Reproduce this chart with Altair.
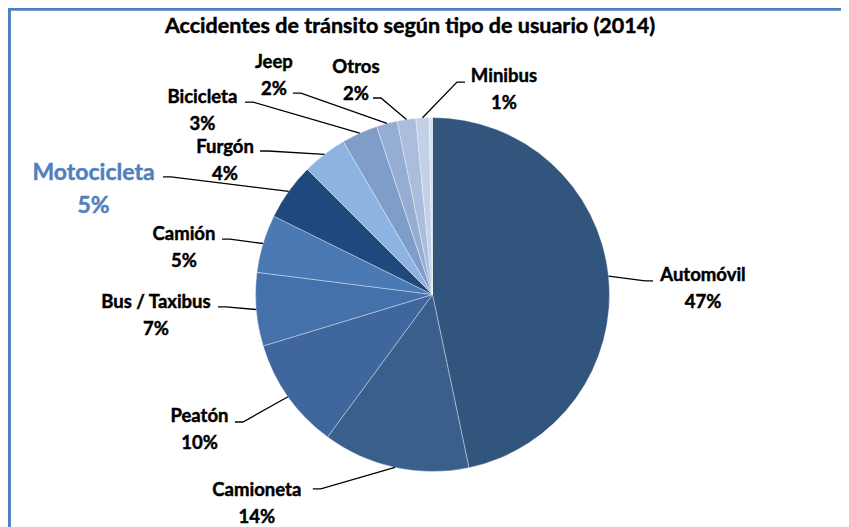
import math
import altair as alt
import pandas as pd

# ---------------- data ----------------
CATEGORIES = ["Automóvil", "Camioneta", "Peatón", "Bus / Taxibus", "Camión",
              "Motocicleta", "Furgón", "Bicicleta", "Jeep", "Otros", "Minibus", "Resto"]
SHARES = [46.7, 13.4, 10.2, 6.7, 5.3, 5.2, 4.1, 3.3, 1.9, 1.7, 1.2, 0.3]
PCT_LABELS = ["47%", "14%", "10%", "7%", "5%", "5%", "4%", "3%", "2%", "2%", "1%", ""]
TITLE = "Accidentes de tránsito según tipo de usuario (2014)"
HIGHLIGHT = "Motocicleta"

# ---------------- style / layout ----------------
COLORS = ["#32557D", "#3A5F8C", "#3F679D", "#4471AA", "#4A79B4", "#1F497D",
          "#8DB3E2", "#7F9DC9", "#96ADD3", "#AABDDD", "#C2D0E8", "#D8E2F1"]
W, H = 833, 519
CX, CY, R = 424.5, 286.5, 177
FONT = "Lato"
# label block centre, polar: degrees clockwise from 12 o'clock, px from pie centre
LABEL_ANGLE = [88.5, 220.2, 240.1, 265.8, 280.9, 287.4, 303.05, 308.8, 324.2, 340.4, 19.1, None]
LABEL_DIST = [270.6, 272.2, 268.8, 277.3, 253.1, 355.2, 247.5, 295.2, 271.1, 228.2, 218.5, None]
# leader-line attach point relative to the label centre
ATTACH = [(-50, -6.5), (56, -13.5), (35.5, -6.5), (62, -8), (38, -7.5), (69.5, -11.5),
          (35, -8.5), (42.5, -7.5), (19, 18.5), (17, 18.5), (-39, -6), None]
ELBOW = 8

# ---------------- tables ----------------
pie = pd.DataFrame({"cat": CATEGORIES, "share": SHARES, "idx": range(len(CATEGORIES))})

total = sum(SHARES)
cum = 0.0
lead_rows, lab_rows = [], []
for i, (c, s) in enumerate(zip(CATEGORIES, SHARES)):
    mid = (cum + s / 2) / total * 2 * math.pi
    cum += s
    if LABEL_ANGLE[i] is None:
        continue
    a = math.radians(LABEL_ANGLE[i])
    lx = CX + LABEL_DIST[i] * math.sin(a)
    ly = CY - LABEL_DIST[i] * math.cos(a)
    gap = 33 if c == HIGHLIGHT else 27
    lab_rows.append({"cat": c, "pct": PCT_LABELS[i], "x": lx,
                     "yn": ly - gap / 2 + 1, "yp": ly + gap / 2 + 1,
                     "hl": c == HIGHLIGHT})
    ex, ey = CX + R * math.sin(mid), CY - R * math.cos(mid)
    ax, ay = lx + ATTACH[i][0], ly + ATTACH[i][1]
    bx = ax + (ELBOW if ax < ex else -ELBOW)
    for k, (px, py) in enumerate([(ex, ey), (bx, ay), (ax, ay)]):
        lead_rows.append({"cat": c, "k": k, "x": px, "y": py})

leads = pd.DataFrame(lead_rows)
labs = pd.DataFrame(lab_rows)

XS = alt.Scale(domain=[0, W], nice=False, zero=False)
YS = alt.Scale(domain=[0, H], nice=False, zero=False, reverse=True)

arcs = alt.Chart(pie).mark_arc(outerRadius=R, stroke="#FFFFFF", strokeWidth=0.6,
                               strokeOpacity=0.6).encode(
    theta=alt.Theta("share:Q", stack=True),
    order=alt.Order("idx:Q"),
    color=alt.Color("cat:N", scale=alt.Scale(domain=CATEGORIES, range=COLORS), legend=None),
    x=alt.value(CX), y=alt.value(CY),
)

lines = alt.Chart(leads).mark_line(color="#000000", strokeWidth=1.3).encode(
    x=alt.X("x:Q", scale=XS, axis=None),
    y=alt.Y("y:Q", scale=YS, axis=None),
    detail="cat:N", order="k:Q",
)

reg = labs[~labs["hl"]]
hl = labs[labs["hl"]]

def text_layer(df, field, yfield, size, color):
    return alt.Chart(df).mark_text(font=FONT, fontWeight="bold", fontSize=size, color=color,
                                   stroke=color, strokeWidth=0.45,
                                   align="center", baseline="middle").encode(
        x=alt.X("x:Q", scale=XS, axis=None),
        y=alt.Y(f"{yfield}:Q", scale=YS, axis=None),
        text=f"{field}:N",
    )

names = text_layer(reg, "cat", "yn", 18.5, "#000000")
pcts = text_layer(reg, "pct", "yp", 18.5, "#000000")
hnames = text_layer(hl, "cat", "yn", 23, "#4F81BD")
hpcts = text_layer(hl, "pct", "yp", 23, "#4F81BD")

dummy = pd.DataFrame({"t": [TITLE]})
title = alt.Chart(dummy).mark_text(font=FONT, fontWeight="bold", fontSize=21.5, color="#000000",
                                   stroke="#000000", strokeWidth=0.45,
                                   align="center", baseline="middle").encode(
    x=alt.value(402), y=alt.value(19), text="t:N")

frame_top = alt.Chart(dummy).mark_rule(color="#4F81BD", strokeWidth=3.5).encode(
    x=alt.value(0), x2=alt.value(W + 30), y=alt.value(1))
frame_left = alt.Chart(dummy).mark_rule(color="#4F81BD", strokeWidth=3.5).encode(
    x=alt.value(1.2), y=alt.value(0), y2=alt.value(H + 30))

chart = alt.layer(arcs, lines, names, pcts, hnames, hpcts, title, frame_top, frame_left).properties(
    width=W, height=H, autosize=alt.AutoSizeParams(type="none"), padding=0,
    background="#FFFFFF",
).configure_view(stroke=None)

chart.save("out.html", embed_options={"renderer": "svg", "actions": False})
